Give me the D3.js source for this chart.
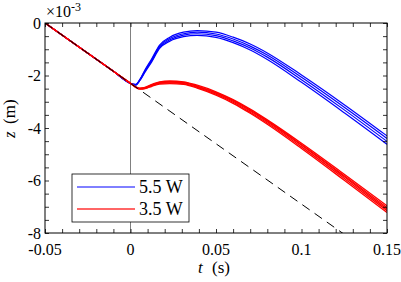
<!DOCTYPE html>
<html>
<head>
<meta charset="utf-8">
<script src="https://cdn.jsdelivr.net/npm/d3@7"></script>
<style>
  body { margin: 0; background: #fff; }
</style>
</head>
<body>
<div id="chart"></div>
<script>
// time samples (s) shared by all runs
const tRun = [-0.05, -0.01, 0, 0.003, 0.0055, 0.0085, 0.0125, 0.017, 0.023, 0.031, 0.039, 0.05, 0.06, 0.07, 0.08, 0.1, 0.125, 0.15];

// z (x 1e-3 m), 5.5 W runs
const blueRuns = [
  [0, -1.84, -2.30, -2.34, -2.15, -1.78, -1.35, -0.84, -0.54, -0.35, -0.29, -0.35, -0.54, -0.80, -1.14, -1.98, -3.11, -4.30],
  [0, -1.84, -2.30, -2.35, -2.16, -1.81, -1.39, -0.88, -0.59, -0.41, -0.35, -0.42, -0.61, -0.88, -1.22, -2.07, -3.21, -4.40],
  [0, -1.84, -2.30, -2.36, -2.18, -1.84, -1.43, -0.92, -0.64, -0.46, -0.41, -0.48, -0.68, -0.95, -1.30, -2.16, -3.31, -4.51],
  [0, -1.84, -2.30, -2.37, -2.19, -1.87, -1.47, -0.97, -0.69, -0.52, -0.47, -0.55, -0.75, -1.03, -1.39, -2.26, -3.42, -4.62]
];

// z (x 1e-3 m), 3.5 W runs
const redRuns = [
  [0, -1.84, -2.30, -2.43, -2.48, -2.45, -2.34, -2.24, -2.21, -2.24, -2.37, -2.62, -2.92, -3.28, -3.69, -4.58, -5.76, -6.96],
  [0, -1.84, -2.30, -2.43, -2.49, -2.46, -2.36, -2.26, -2.23, -2.26, -2.40, -2.65, -2.95, -3.32, -3.73, -4.63, -5.82, -7.03],
  [0, -1.84, -2.30, -2.44, -2.50, -2.47, -2.37, -2.28, -2.25, -2.28, -2.42, -2.67, -2.98, -3.35, -3.76, -4.66, -5.86, -7.09],
  [0, -1.84, -2.30, -2.45, -2.51, -2.49, -2.39, -2.30, -2.28, -2.31, -2.45, -2.71, -3.02, -3.40, -3.81, -4.72, -5.92, -7.15],
  [0, -1.84, -2.30, -2.45, -2.52, -2.50, -2.41, -2.33, -2.31, -2.34, -2.48, -2.75, -3.06, -3.44, -3.86, -4.78, -5.99, -7.22]
];

// free fall reference (dashed)
const dashT = [-0.05, 0.15];
const dashZ = [0, -9.2];

const xTicks = [-0.05, 0, 0.05, 0.1, 0.15];
const xTickLabels = ["-0.05", "0", "0.05", "0.1", "0.15"];
const yTicks = [0, -2, -4, -6, -8];
const yTickLabels = ["0", "-2", "-4", "-6", "-8"];
const legendLabels = ["5.5 W", "3.5 W"];

const W = 401, H = 282;
const P = { L: 45, R: 387, T: 23, B: 233 };
const FONT = '"Liberation Serif"';

const svg = d3.select("#chart").append("svg")
  .attr("width", W)
  .attr("height", H)
  .style("display", "block");

const x = d3.scaleLinear().domain([-0.05, 0.15]).range([P.L, P.R]);
const y = d3.scaleLinear().domain([-8, 0]).range([P.B, P.T]);

svg.append("clipPath").attr("id", "plot")
  .append("rect")
  .attr("x", P.L).attr("y", P.T)
  .attr("width", P.R - P.L).attr("height", P.B - P.T);

const g = svg.append("g").attr("clip-path", "url(#plot)");

// vertical marker at t = 0
g.append("line")
  .attr("x1", x(0)).attr("x2", x(0))
  .attr("y1", P.T).attr("y2", P.B)
  .attr("stroke", "#808080")
  .attr("stroke-width", 1);

const line = d3.line()
  .x((d, i) => x(tRun[i]))
  .y(d => y(d))
  .curve(d3.curveMonotoneX);

g.selectAll(".blue").data(blueRuns).enter().append("path")
  .attr("class", "blue")
  .attr("fill", "none")
  .attr("stroke", "#0000ff")
  .attr("stroke-width", 1.2)
  .attr("d", line);

g.selectAll(".red").data(redRuns).enter().append("path")
  .attr("class", "red")
  .attr("fill", "none")
  .attr("stroke", "#ff0000")
  .attr("stroke-width", 1.3)
  .attr("d", line);

g.append("path")
  .attr("fill", "none")
  .attr("stroke", "#000")
  .attr("stroke-width", 1)
  .attr("stroke-dasharray", "9,6")
  .attr("d", d3.line()
    .x((d, i) => x(dashT[i]))
    .y(d => y(d))(dashZ));

// ticks on all four sides (inward)
const xMinor = d3.range(-0.05, 0.1501, 0.01);
const yMinor = d3.range(-8, 0.001, 0.5);
const tickLen = 4;

svg.append("g")
  .attr("transform", `translate(0, ${P.B})`)
  .call(d3.axisBottom(x).tickValues(xMinor).tickSize(-tickLen).tickFormat(""));
svg.append("g")
  .attr("transform", `translate(0, ${P.T})`)
  .call(d3.axisTop(x).tickValues(xMinor).tickSize(-tickLen).tickFormat(""));
svg.append("g")
  .attr("transform", `translate(${P.L}, 0)`)
  .call(d3.axisLeft(y).tickValues(yMinor).tickSize(-tickLen).tickFormat(""));
svg.append("g")
  .attr("transform", `translate(${P.R}, 0)`)
  .call(d3.axisRight(y).tickValues(yMinor).tickSize(-tickLen).tickFormat(""));
svg.selectAll(".domain").remove();
svg.selectAll(".tick line").attr("stroke", "#000").attr("stroke-width", 0.8);

svg.append("rect")
  .attr("x", P.L).attr("y", P.T)
  .attr("width", P.R - P.L).attr("height", P.B - P.T)
  .attr("fill", "none")
  .attr("stroke", "#000")
  .attr("stroke-width", 1);

// tick labels
svg.append("g").selectAll("text").data(xTicks).enter().append("text")
  .attr("x", d => x(d))
  .attr("y", 255)
  .attr("text-anchor", "middle")
  .style("font-family", FONT)
  .style("font-size", "16px")
  .text((d, i) => xTickLabels[i]);

svg.append("g").selectAll("text").data(yTicks).enter().append("text")
  .attr("x", 41)
  .attr("y", d => y(d))
  .attr("dy", "0.35em")
  .attr("text-anchor", "end")
  .style("font-family", FONT)
  .style("font-size", "16px")
  .text((d, i) => yTickLabels[i]);

// exponent
const ex = svg.append("text")
  .attr("x", 46)
  .attr("y", 17)
  .style("font-family", FONT)
  .style("font-size", "16px");
ex.append("tspan").text("\u00d710");
ex.append("tspan").style("font-size", "12px").attr("dy", -6).text("-3");

// axis labels
const xl = svg.append("text")
  .attr("x", 198)
  .attr("y", 273)
  .style("font-family", FONT)
  .style("font-size", "17px");
xl.append("tspan").style("font-style", "italic").text("t");
xl.append("tspan").attr("x", 212).text("(s)");

const yl = svg.append("text")
  .attr("transform", "translate(15, 138) rotate(-90)")
  .style("font-family", FONT)
  .style("font-size", "17px");
yl.append("tspan").style("font-style", "italic").text("z");
yl.append("tspan").attr("x", 14).text("(m)");

// legend
const lg = svg.append("g");
lg.append("rect")
  .attr("x", 72).attr("y", 174)
  .attr("width", 117).attr("height", 48)
  .attr("fill", "#fff")
  .attr("stroke", "#000")
  .attr("stroke-width", 0.8);

const legColors = ["#0000ff", "#ff3333"];
legendLabels.forEach((lab, i) => {
  const ly = 187 + i * 22;
  lg.append("line")
    .attr("x1", 77).attr("x2", 135)
    .attr("y1", ly).attr("y2", ly)
    .attr("stroke", legColors[i])
    .attr("stroke-width", i === 0 ? 1 : 1.4);
  lg.append("text")
    .attr("x", 139)
    .attr("y", ly)
    .attr("dy", "0.35em")
    .style("font-family", FONT)
    .style("font-size", "18px")
    .text(lab);
});
</script>
</body>
</html>
